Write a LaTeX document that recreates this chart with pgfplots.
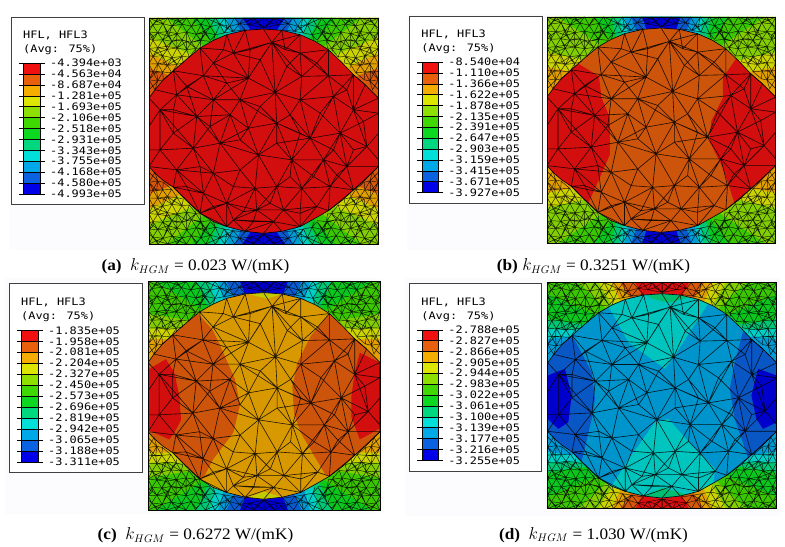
\documentclass[border=0pt]{standalone}
\usepackage{fontspec}
\usepackage{pgfplots}
\usepackage{pgfplotstable}
\pgfplotsset{compat=1.18}
\setmainfont[FakeStretch=1.08]{Liberation Serif}
\newfontfamily\abq[FakeStretch=1.16]{DejaVu Sans Mono}

% contour band colours, top to bottom of the legend
\definecolor{c1}{HTML}{F01010}
\definecolor{c2}{HTML}{E8600C}
\definecolor{c3}{HTML}{F5AE00}
\definecolor{c4}{HTML}{DDE600}
\definecolor{c5}{HTML}{8EE000}
\definecolor{c6}{HTML}{3FD800}
\definecolor{c7}{HTML}{0CD820}
\definecolor{c8}{HTML}{00D880}
\definecolor{c9}{HTML}{00E0D8}
\definecolor{c10}{HTML}{00A8E8}
\definecolor{c11}{HTML}{0A62E0}
\definecolor{c12}{HTML}{0000E8}

% inclusion outline
\pgfplotstableread[row sep=\\,header=false]{
447 295\\465 270\\490 240\\520 213\\560 178\\600 145\\640 122\\680 105\\735 92\\790 88\\845 92\\900 105\\945 125\\985 150\\1025 188\\1060 225\\1095 255\\1135 295\\
1135 500\\1095 540\\1060 570\\1025 602\\985 632\\945 655\\900 680\\845 694\\790 700\\735 694\\680 680\\640 665\\600 640\\560 603\\520 562\\490 542\\465 520\\447 500\\
}\outlinetab

% mesh inside the inclusion
\pgfplotstableread[row sep=\\,header=false]{
790 88\\815 128\\845 92\\nan nan\\
900 105\\815 128\\700 160\\735 92\\nan nan\\
680 105\\700 160\\640 190\\600 145\\610 228\\520 213\\530 285\\465 270\\nan nan\\
447 295\\480 330\\530 285\\610 228\\640 190\\745 235\\700 160\\nan nan\\
815 128\\745 235\\610 228\\640 300\\530 285\\590 350\\480 330\\nan nan\\
815 128\\825 278\\745 235\\720 300\\825 278\\900 300\\905 230\\825 278\\nan nan\\
815 128\\905 230\\900 160\\815 128\\nan nan\\
900 105\\900 160\\985 150\\985 228\\900 160\\nan nan\\
905 230\\985 228\\900 300\\1000 290\\985 228\\1060 225\\1000 290\\1060 330\\1060 225\\1095 255\\1060 330\\1135 295\\nan nan\\
745 235\\640 300\\720 300\\690 345\\640 300\\590 350\\690 345\\nan nan\\
720 300\\745 385\\690 345\\660 430\\590 350\\580 445\\480 330\\480 450\\447 450\\nan nan\\
447 380\\480 330\\nan nan\\
825 278\\870 345\\900 300\\930 415\\870 345\\830 370\\825 278\\nan nan\\
720 300\\830 370\\745 385\\660 430\\580 445\\480 450\\447 500\\530 510\\480 450\\nan nan\\
1000 290\\930 415\\1020 400\\1000 290\\nan nan\\
1060 330\\1020 400\\1100 440\\1060 330\\1135 340\\nan nan\\
1135 400\\1100 440\\1135 480\\nan nan\\
1100 440\\1040 500\\1020 400\\970 480\\930 415\\875 480\\970 480\\1040 500\\1135 500\\1060 570\\1040 500\\nan nan\\
830 370\\875 480\\775 465\\830 370\\930 415\\nan nan\\
745 385\\775 465\\660 430\\640 520\\580 445\\530 510\\640 520\\720 510\\660 430\\nan nan\\
530 510\\520 562\\610 580\\530 510\\nan nan\\
520 562\\600 640\\610 580\\640 520\\680 610\\720 510\\765 565\\775 465\\720 510\\nan nan\\
775 465\\830 560\\875 480\\905 565\\970 480\\990 560\\905 565\\830 560\\765 565\\680 610\\610 580\\nan nan\\
1040 500\\990 560\\1060 570\\985 632\\990 560\\950 620\\905 565\\850 630\\830 560\\770 630\\765 565\\nan nan\\
680 610\\770 630\\850 630\\950 620\\985 632\\nan nan\\
950 620\\900 680\\850 630\\820 665\\770 630\\700 660\\680 610\\600 640\\680 680\\680 610\\nan nan\\
680 680\\700 660\\735 694\\820 665\\790 700\\nan nan\\
845 694\\820 665\\900 680\\nan nan\\
700 660\\820 665\\nan nan\\
610 228\\560 260\\530 285\\560 260\\520 213\\560 260\\590 350\\560 260\\640 300\\nan nan\\
745 235\\680 250\\640 190\\680 250\\610 228\\680 250\\640 300\\680 250\\720 300\\nan nan\\
815 128\\780 180\\700 160\\780 180\\745 235\\780 180\\825 278\\nan nan\\
815 128\\860 200\\900 160\\860 200\\905 230\\860 200\\825 278\\nan nan\\
900 160\\950 190\\985 150\\950 190\\985 228\\950 190\\905 230\\nan nan\\
1060 225\\1040 270\\985 228\\1040 270\\1000 290\\1040 270\\1060 330\\nan nan\\
900 300\\960 340\\1000 290\\960 340\\930 415\\960 340\\1020 400\\nan nan\\
480 330\\520 400\\590 350\\520 400\\580 445\\520 400\\480 450\\nan nan\\
590 350\\630 380\\690 345\\630 380\\660 430\\630 380\\580 445\\630 380\\640 300\\nan nan\\
720 300\\780 320\\825 278\\780 320\\830 370\\780 320\\745 385\\nan nan\\
870 345\\900 400\\930 415\\900 400\\875 480\\900 400\\830 370\\nan nan\\
1100 440\\1060 450\\1020 400\\1060 450\\1040 500\\nan nan\\
745 385\\720 420\\690 345\\720 420\\660 430\\720 420\\775 465\\nan nan\\
830 370\\830 430\\775 465\\830 430\\875 480\\830 430\\930 415\\nan nan\\
1020 400\\1000 450\\970 480\\1000 450\\1040 500\\1000 450\\930 415\\nan nan\\
580 445\\600 500\\530 510\\600 500\\640 520\\600 500\\610 580\\nan nan\\
720 510\\700 560\\640 520\\700 560\\680 610\\700 560\\765 565\\nan nan\\
875 480\\870 530\\830 560\\870 530\\905 565\\nan nan\\
905 565\\940 530\\970 480\\940 530\\990 560\\940 530\\875 480\\nan nan\\
970 480\\1010 525\\1040 500\\1010 525\\990 560\\1010 525\\1060 570\\nan nan\\
530 510\\560 560\\520 562\\560 560\\610 580\\560 560\\600 640\\nan nan\\
610 580\\640 620\\680 610\\640 620\\600 640\\640 620\\680 680\\nan nan\\
680 610\\730 635\\770 630\\730 635\\700 660\\730 635\\765 565\\nan nan\\
770 630\\810 610\\850 630\\810 610\\830 560\\810 610\\765 565\\nan nan\\
850 630\\900 640\\950 620\\900 640\\905 565\\900 640\\900 680\\nan nan\\
700 660\\760 665\\770 630\\760 665\\820 665\\760 665\\735 694\\nan nan\\
700 160\\670 150\\640 190\\670 150\\680 105\\670 150\\600 145\\nan nan\\
815 128\\750 150\\700 160\\750 150\\735 92\\750 150\\745 235\\nan nan\\
815 128\\855 150\\900 105\\855 150\\900 160\\855 150\\845 92\\nan nan\\
1060 330\\1090 365\\1135 340\\1090 365\\1100 440\\1090 365\\1020 400\\nan nan\\
480 330\\520 330\\530 285\\520 330\\590 350\\520 330\\520 400\\nan nan\\
}\meshtab

% finer mesh of one corner of the matrix
\pgfplotstableread[row sep=\\,header=false]{
447 55\\458 76\\474 55\\489 72\\503 55\\516 79\\531 55\\546 73\\560 55\\574 80\\588 55\\603 74\\617 55\\631 81\\645 55\\660 74\\674 55\\689 80\\703 55\\718 72\\732 55\\748 76\\761 55\\791 84\\791 55\\nan nan\\
447 85\\458 76\\489 72\\516 79\\546 73\\574 80\\603 74\\631 81\\660 74\\689 80\\718 72\\748 76\\791 84\\nan nan\\
447 97\\458 76\\473 99\\489 72\\502 96\\516 79\\531 102\\546 73\\560 97\\574 80\\589 104\\603 74\\617 99\\631 81\\646 105\\660 74\\672 100\\689 80\\700 95\\718 72\\735 90\\nan nan\\
447 97\\473 99\\502 96\\531 102\\560 97\\589 104\\617 99\\646 105\\672 100\\700 95\\735 90\\nan nan\\
447 97\\459 122\\473 99\\488 120\\502 96\\516 125\\531 102\\546 121\\560 97\\574 128\\589 104\\603 122\\617 99\\631 122\\646 105\\640 122\\nan nan\\
447 118\\459 122\\488 120\\516 125\\546 121\\574 128\\603 122\\631 125\\nan nan\\
447 146\\459 122\\473 144\\488 120\\502 149\\516 125\\531 145\\546 121\\560 150\\574 128\\588 146\\603 122\\600 145\\nan nan\\
447 146\\473 144\\502 149\\531 145\\560 150\\588 146\\600 145\\nan nan\\
447 146\\459 170\\473 144\\488 168\\502 149\\516 174\\531 145\\546 170\\560 150\\568 172\\588 146\\585 155\\nan nan\\
447 168\\459 170\\488 168\\516 174\\546 170\\568 172\\nan nan\\
447 193\\459 170\\473 192\\488 168\\502 197\\516 174\\531 194\\546 170\\550 190\\nan nan\\
447 193\\473 192\\502 197\\531 194\\548 190\\nan nan\\
447 193\\459 217\\473 192\\488 217\\502 197\\515 219\\531 194\\531 205\\nan nan\\
447 215\\459 217\\488 217\\515 219\\nan nan\\
447 240\\459 217\\473 244\\488 217\\490 240\\515 219\\nan nan\\
447 240\\473 244\\490 240\\nan nan\\
447 270\\473 244\\465 270\\447 240\\nan nan\\
473 99\\505 110\\531 102\\505 110\\488 120\\505 110\\516 125\\505 110\\489 72\\505 110\\516 79\\nan nan\\
546 121\\560 125\\574 128\\560 125\\560 97\\560 125\\560 150\\560 125\\531 145\\560 125\\588 146\\nan nan\\
447 146\\470 160\\488 168\\470 160\\459 170\\470 160\\473 144\\470 160\\502 149\\nan nan\\
589 104\\610 95\\631 81\\610 95\\603 74\\610 95\\617 99\\610 95\\603 122\\610 95\\631 122\\nan nan\\
516 174\\520 185\\546 170\\520 185\\531 194\\520 185\\502 197\\nan nan\\
660 74\\680 85\\689 80\\680 85\\672 100\\680 85\\700 95\\680 85\\674 55\\nan nan\\
516 79\\535 65\\546 73\\535 65\\531 55\\535 65\\560 55\\535 65\\503 55\\nan nan\\
447 55\\470 65\\458 76\\470 65\\489 72\\470 65\\474 55\\470 65\\503 55\\nan nan\\
459 217\\470 215\\488 217\\470 215\\473 192\\470 215\\473 244\\470 215\\447 240\\nan nan\\
631 81\\640 65\\660 74\\640 65\\645 55\\640 65\\617 55\\nan nan\\
574 80\\590 60\\603 74\\590 60\\588 55\\nan nan\\
718 72\\740 65\\748 76\\740 65\\732 55\\740 65\\761 55\\nan nan\\
748 76\\770 70\\791 84\\770 70\\761 55\\770 70\\791 55\\nan nan\\
447 97\\460 110\\473 99\\460 110\\459 122\\460 110\\447 118\\nan nan\\
488 120\\500 140\\516 125\\500 140\\502 149\\500 140\\473 144\\500 140\\531 145\\nan nan\\
589 104\\600 120\\617 99\\600 120\\603 122\\600 120\\574 128\\nan nan\\
516 125\\530 120\\546 121\\530 120\\531 102\\530 120\\531 145\\nan nan\\
488 168\\490 190\\473 192\\490 190\\502 197\\490 190\\516 174\\nan nan\\
}\cornertab

\pgfplotsset{
  panel/.style={scale only axis,xmin=447,xmax=1135,ymin=55,ymax=732,y dir=reverse,
    xtick=\empty,ytick=\empty,axis on top,axis line style={black,line width=.7pt},
    unbounded coords=jump},
}
\tikzset{capt/.style={font=\fontsize{16}{18}\selectfont,anchor=base}}

% one band in all four corners of the matrix (mirrored about the centre)
\newcommand{\qb}[2]{%
  \addplot[fill=#1!92!black,draw=none] table[row sep=\\,header=false,x index=0,y index=1]{#2} -- cycle;
  \addplot[fill=#1!92!black,draw=none] table[row sep=\\,header=false,x expr=1582-\thisrowno{0},y index=1]{#2} -- cycle;
  \addplot[fill=#1!92!black,draw=none] table[row sep=\\,header=false,x index=0,y expr=787-\thisrowno{1}]{#2} -- cycle;
  \addplot[fill=#1!92!black,draw=none] table[row sep=\\,header=false,x expr=1582-\thisrowno{0},y expr=787-\thisrowno{1}]{#2} -- cycle;
}
\newcommand{\base}[1]{\addplot[fill=#1!92!black,draw=none] coordinates {(447,55)(1135,55)(1135,732)(447,732)} -- cycle;}
\newcommand{\inclusion}[1]{\addplot[fill=#1!88!black,draw=none] table[x index=0,y index=1]{\outlinetab} -- cycle;}
\newcommand{\zone}[2]{\addplot[fill=#1!88!black,draw=none] coordinates {#2} -- cycle;}
\newcommand{\meshlines}{%
  \addplot[black,line width=.6pt,opacity=.85,line join=round] table[x index=0,y index=1]{\meshtab};
  \addplot[black,line width=.6pt] table[x index=0,y index=1]{\outlinetab};
  \addplot[black,line width=.45pt,opacity=.85] table[x index=0,y index=1]{\cornertab};
  \addplot[black,line width=.45pt,opacity=.85] table[x expr=1582-\thisrowno{0},y index=1]{\cornertab};
  \addplot[black,line width=.45pt,opacity=.85] table[x index=0,y expr=787-\thisrowno{1}]{\cornertab};
  \addplot[black,line width=.45pt,opacity=.85] table[x expr=1582-\thisrowno{0},y expr=787-\thisrowno{1}]{\cornertab};
}

\newcommand{\cells}{%
  \addplot[fill=c1,draw=black,line width=.35pt] coordinates {(0,0)(1,0)(1,1)(0,1)} -- cycle;
  \addplot[fill=c2,draw=black,line width=.35pt] coordinates {(0,1)(1,1)(1,2)(0,2)} -- cycle;
  \addplot[fill=c3,draw=black,line width=.35pt] coordinates {(0,2)(1,2)(1,3)(0,3)} -- cycle;
  \addplot[fill=c4,draw=black,line width=.35pt] coordinates {(0,3)(1,3)(1,4)(0,4)} -- cycle;
  \addplot[fill=c5,draw=black,line width=.35pt] coordinates {(0,4)(1,4)(1,5)(0,5)} -- cycle;
  \addplot[fill=c6,draw=black,line width=.35pt] coordinates {(0,5)(1,5)(1,6)(0,6)} -- cycle;
  \addplot[fill=c7,draw=black,line width=.35pt] coordinates {(0,6)(1,6)(1,7)(0,7)} -- cycle;
  \addplot[fill=c8,draw=black,line width=.35pt] coordinates {(0,7)(1,7)(1,8)(0,8)} -- cycle;
  \addplot[fill=c9,draw=black,line width=.35pt] coordinates {(0,8)(1,8)(1,9)(0,9)} -- cycle;
  \addplot[fill=c10,draw=black,line width=.35pt] coordinates {(0,9)(1,9)(1,10)(0,10)} -- cycle;
  \addplot[fill=c11,draw=black,line width=.35pt] coordinates {(0,10)(1,10)(1,11)(0,11)} -- cycle;
  \addplot[fill=c12,draw=black,line width=.35pt] coordinates {(0,11)(1,11)(1,12)(0,12)} -- cycle;
}
% #1,#2 box lower left, #3,#4 box size, #5,#6 bar lower left, #7 bar height, #8 labels
\newcommand{\abqlegend}[8]{%
  \draw[draw=black!75,fill=white,line width=.7pt] (#1bp,#2bp) rectangle ++(#3bp,#4bp);
  \node[anchor=base west,inner sep=0pt,font=\abq\fontsize{10.3}{12}\selectfont] at ({#5*1bp-.5bp},{(#6+#7+24.5)*1bp}) {HFL, HFL3};
  \node[anchor=base west,inner sep=0pt,font=\abq\fontsize{10.3}{12}\selectfont] at ({#5*1bp-.5bp},{(#6+#7+10.5)*1bp}) {(Avg: 75\%)};
  \begin{axis}[scale only axis,at={(#5bp,#6bp)},anchor=south west,width=16.5bp,height=#7bp,
    xmin=0,xmax=1,ymin=0,ymax=12,y dir=reverse,xtick=\empty,ytick={0,...,12},yticklabels={#8},
    yticklabel pos=right,tick align=outside,major tick length=4.5bp,
    tick style={black,line width=.4pt},axis line style={black,line width=.4pt},
    y tick label style={font=\abq\fontsize{10.3}{11}\selectfont,anchor=west,inner sep=0pt,xshift=5.5bp}]
    \cells
  \end{axis}
}

\begin{document}
\begin{tikzpicture}
\useasboundingbox (0,0) rectangle (785bp,547bp);
\fill[black!2!blue!1!white] (9bp,297bp) rectangle (380bp,531bp);
\fill[black!2!blue!1!white] (407bp,297bp) rectangle (778bp,533bp);
\fill[black!2!blue!1!white] (5bp,33bp) rectangle (383bp,269bp);
\fill[black!2!blue!1!white] (405bp,31bp) rectangle (780bp,269bp);

% (a)
\abqlegend{11.5}{342.5}{132.5}{187.5}{23.5}{353}{131}{-4.394e+03,-4.563e+04,-8.687e+04,-1.281e+05,-1.693e+05,-2.106e+05,-2.518e+05,-2.931e+05,-3.343e+05,-3.755e+05,-4.168e+05,-4.580e+05,-4.993e+05}
\begin{axis}[panel,at={(149bp,303bp)},anchor=south west,width=229.5bp,height=226bp]
  \base{c2}
  \qb{c3}{505 226\\447 205\\447 55\\791 55\\791 393\\}
  \qb{c4}{535 200\\447 160\\447 55\\791 55\\791 393\\}
  \qb{c5}{575 165\\447 112\\447 55\\791 55\\791 393\\}
  \qb{c6}{610 140\\500 55\\791 55\\791 393\\}
  \qb{c7}{635 122\\575 55\\791 55\\791 393\\}
  \qb{c8}{655 115\\625 55\\791 55\\791 393\\}
  \qb{c9}{675 108\\655 55\\791 55\\791 393\\}
  \qb{c10}{695 100\\680 55\\791 55\\791 393\\}
  \qb{c11}{720 92\\705 55\\791 55\\791 393\\}
  \qb{c12}{750 88\\727 55\\791 55\\791 393\\}
  \inclusion{c1}
  \meshlines
\end{axis}
\node[capt] at (195.5bp,276bp) {\textbf{(a)}\ \ $k_{HGM}$ = 0.023 W/(mK)};

% (b)
\abqlegend{409.7}{343.3}{132.3}{187.7}{421.7}{354.5}{130.5}{-8.540e+04,-1.110e+05,-1.366e+05,-1.622e+05,-1.878e+05,-2.135e+05,-2.391e+05,-2.647e+05,-2.903e+05,-3.159e+05,-3.415e+05,-3.671e+05,-3.927e+05}
\begin{axis}[panel,at={(547bp,304bp)},anchor=south west,width=228.7bp,height=226bp]
  \base{c3}
  \qb{c4}{530 220\\447 205\\447 55\\791 55\\791 393\\}
  \qb{c5}{560 185\\447 160\\447 55\\791 55\\791 393\\}
  \qb{c6}{610 140\\480 55\\791 55\\791 393\\}
  \qb{c7}{640 122\\590 55\\791 55\\791 393\\}
  \qb{c8}{655 115\\640 55\\791 55\\791 393\\}
  \qb{c9}{675 108\\665 55\\791 55\\791 393\\}
  \qb{c10}{690 100\\680 55\\791 55\\791 393\\}
  \qb{c11}{715 95\\700 55\\791 55\\791 393\\}
  \qb{c12}{745 90\\735 55\\791 55\\791 393\\}
  \inclusion{c2}
  \zone{c1}{(447,295)(465,270)(490,240)(520,213)(541,195)(603,232)(611,297)(636,357)(636,467)(601,547)(571,613)(560,603)(520,562)(490,542)(465,520)(447,500)}
  \zone{c1}{(1016,180)(976,237)(976,297)(941,367)(936,427)(976,507)(1011,612)(1025,602)(1060,570)(1095,540)(1135,500)(1135,295)(1095,255)(1060,225)(1025,188)}
  \meshlines
\end{axis}
\node[capt] at (593.5bp,276bp) {\textbf{(b)}\ $k_{HGM}$ = 0.3251 W/(mK)};

% (c)
\abqlegend{9.5}{74.3}{133}{189}{21.5}{85}{131.7}{-1.835e+05,-1.958e+05,-2.081e+05,-2.204e+05,-2.327e+05,-2.450e+05,-2.573e+05,-2.696e+05,-2.819e+05,-2.942e+05,-3.065e+05,-3.188e+05,-3.311e+05}
\begin{axis}[panel,at={(148bp,37bp)},anchor=south west,width=232bp,height=228.5bp]
  \base{c3}
  \qb{c4}{515 225\\447 225\\447 55\\791 55\\791 393\\}
  \qb{c5}{545 195\\447 195\\447 55\\791 55\\791 393\\}
  \qb{c6}{570 170\\447 150\\447 55\\791 55\\791 393\\}
  \qb{c7}{610 140\\470 55\\791 55\\791 393\\}
  \qb{c8}{625 130\\590 55\\791 55\\791 393\\}
  \qb{c9}{645 120\\630 55\\791 55\\791 393\\}
  \qb{c10}{670 108\\655 55\\791 55\\791 393\\}
  \qb{c11}{700 98\\680 55\\791 55\\791 393\\}
  \qb{c12}{735 92\\720 55\\791 55\\791 393\\}
  \inclusion{c3}
  \zone{c4}{(745,92)(790,88)(845,92)(800,106)}
  \zone{c4}{(745,694)(790,678)(845,694)(790,700)}
  \zone{c2}{(447,295)(465,270)(490,240)(520,213)(560,178)(595,150)(640,200)(670,265)(705,345)(720,420)(700,503)(640,582)(610,640)(600,640)(560,603)(520,562)(490,542)(465,520)(447,500)}
  \zone{c2}{(985,150)(930,216)(890,296)(875,366)(880,446)(900,503)(940,572)(975,630)(985,632)(1025,602)(1060,570)(1095,540)(1135,500)(1135,295)(1095,255)(1060,225)(1025,188)}
  \zone{c1}{(447,316)(500,285)(525,325)(540,395)(545,465)(525,503)(510,523)(447,495)}
  \zone{c1}{(1135,295)(1075,266)(1060,326)(1050,396)(1050,456)(1075,523)(1135,490)}
  \meshlines
\end{axis}
\node[capt] at (195.5bp,7.5bp) {\textbf{(c)}\ \ $k_{HGM}$ = 0.6272 W/(mK)};

% (d)
\abqlegend{409.7}{76}{132}{187.3}{421.7}{86.7}{130.6}{-2.788e+05,-2.827e+05,-2.866e+05,-2.905e+05,-2.944e+05,-2.983e+05,-3.022e+05,-3.061e+05,-3.100e+05,-3.139e+05,-3.177e+05,-3.216e+05,-3.255e+05}
\begin{axis}[panel,at={(547.7bp,38.3bp)},anchor=south west,width=229bp,height=226bp]
  \base{c10}
  \qb{c9}{520 215\\447 225\\447 55\\791 55\\791 393\\}
  \qb{c8}{540 195\\447 195\\447 55\\791 55\\791 393\\}
  \qb{c7}{560 180\\447 165\\447 55\\791 55\\791 393\\}
  \qb{c6}{590 150\\447 90\\447 55\\791 55\\791 393\\}
  \qb{c5}{620 130\\540 55\\791 55\\791 393\\}
  \qb{c4}{640 122\\600 55\\791 55\\791 393\\}
  \qb{c3}{665 110\\640 55\\791 55\\791 393\\}
  \qb{c2}{695 100\\665 55\\791 55\\791 393\\}
  \qb{c1}{730 92\\710 55\\791 55\\791 393\\}
  \inclusion{c10}
  \zone{c9}{(629,125)(689,233)(799,313)(829,273)(929,118)(900,105)(845,92)(790,88)(735,92)(680,105)}
  \zone{c8}{(745,92)(790,88)(845,92)(870,100)(810,115)(760,103)}
  \zone{c9}{(639,663)(700,570)(769,473)(810,463)(889,553)(950,613)(945,655)(900,680)(845,694)(790,700)(735,694)(680,680)}
  \zone{c8}{(735,694)(790,670)(870,690)(790,700)}
  \zone{c11}{(447,295)(465,270)(490,240)(520,213)(534,238)(579,323)(589,403)(579,463)(549,590)(520,562)(490,542)(465,520)(447,500)}
  \zone{c12}{(447,333)(499,313)(519,393)(509,473)(479,493)(447,463)}
  \zone{c11}{(1034,200)(1009,293)(994,373)(1009,463)(1049,580)(1060,570)(1095,540)(1135,500)(1135,295)(1095,255)(1060,225)}
  \zone{c12}{(1135,333)(1079,313)(1059,393)(1074,463)(1094,493)(1135,473)}
  \meshlines
\end{axis}
\node[capt] at (593.5bp,8bp) {\textbf{(d)}\ \ $k_{HGM}$ = 1.030 W/(mK)};
\end{tikzpicture}
\end{document}
